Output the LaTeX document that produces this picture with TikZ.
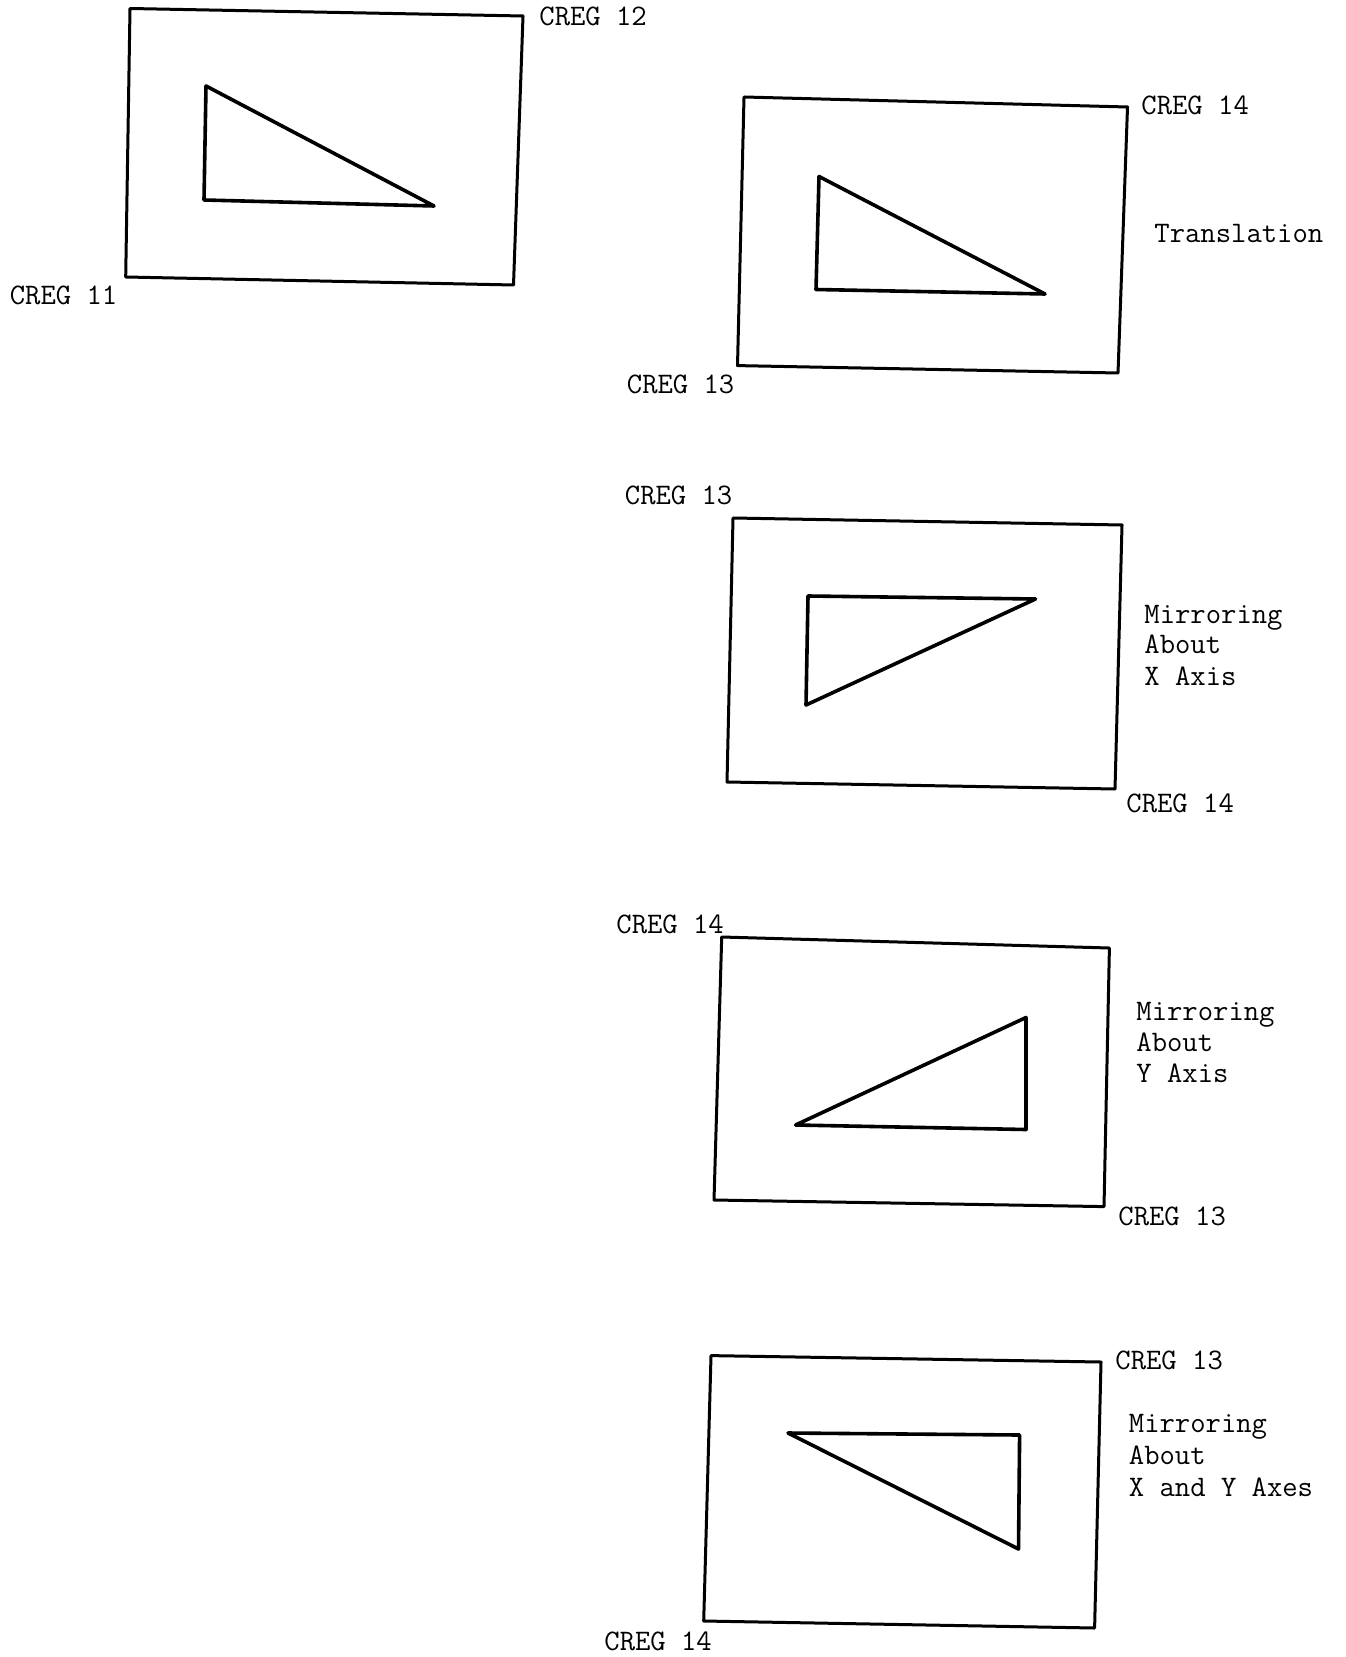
\documentclass[tikz,border=0pt]{standalone}
\begin{document}
\begin{tikzpicture}[x=0.5pt,y=-0.5pt,
  boxline/.style={line width=1.5pt,line join=round,line cap=round},
  triline/.style={line width=1.8pt,line join=round,line cap=round},
  lbl/.style={anchor=base west,inner sep=0pt,font=\fontsize{14.9pt}{15.5pt}\selectfont\ttfamily}]
\useasboundingbox (0,0) rectangle (1345,1657);
% Box 1
\draw[boxline] (130,8.5) -- (523,16) -- (513.5,285) -- (125.7,277) -- cycle;
\draw[triline] (206,86) -- (434,206) -- (204,200) -- cycle;
\node[lbl] (c12) at (539,26) {CREG 12};
\node[lbl] (c11) at (9.5,305) {CREG 11};
% Box 2
\draw[boxline] (744,97) -- (1127.5,107) -- (1118,373) -- (737.5,365.6) -- cycle;
\draw[triline] (819,176.5) -- (1045,294) -- (816,289.5) -- cycle;
\node[lbl] (b2a) at (1141,115) {CREG 14};
\node[lbl] (b2t) at (1154,242.5) {Translation};
\node[lbl] (b2b) at (626.5,393.6) {CREG 13};
% Box 3
\draw[boxline] (733,518) -- (1122,525) -- (1115,789) -- (727,782) -- cycle;
\draw[triline] (808,596) -- (1035.5,599) -- (806,705) -- cycle;
\node[lbl] (b3a) at (624.5,504.5) {CREG 13};
\node[lbl] (b3t1) at (1144,623) {Mirroring};
\node[lbl] (b3t2) at (1144,653.5) {About};
\node[lbl] (b3t3) at (1144,685) {X Axis};
\node[lbl] (b3b) at (1126,812) {CREG 14};
% Box 4
\draw[boxline] (721.7,937) -- (1109.4,948) -- (1104,1206.6) -- (714,1200) -- cycle;
\draw[triline] (795.6,1125) -- (1026,1017.5) -- (1026,1129.5) -- cycle;
\node[lbl] (b4a) at (616,933.5) {CREG 14};
\node[lbl] (b4t1) at (1136,1020) {Mirroring};
\node[lbl] (b4t2) at (1136,1051) {About};
\node[lbl] (b4t3) at (1136,1082.5) {Y Axis};
\node[lbl] (b4b) at (1118,1225) {CREG 13};
% Box 5
\draw[boxline] (711,1355.6) -- (1101,1362) -- (1094.6,1628) -- (703.7,1621) -- cycle;
\draw[triline] (788,1433) -- (1019.6,1435) -- (1018.5,1549) -- cycle;
\node[lbl] (b5a) at (1115,1369) {CREG 13};
\node[lbl] (b5t1) at (1128.5,1432) {Mirroring};
\node[lbl] (b5t2) at (1128.5,1464) {About};
\node[lbl] (b5t3) at (1128.5,1496) {X and Y Axes};
\node[lbl] (b5b) at (604,1650) {CREG 14};
\end{tikzpicture}
\end{document}
